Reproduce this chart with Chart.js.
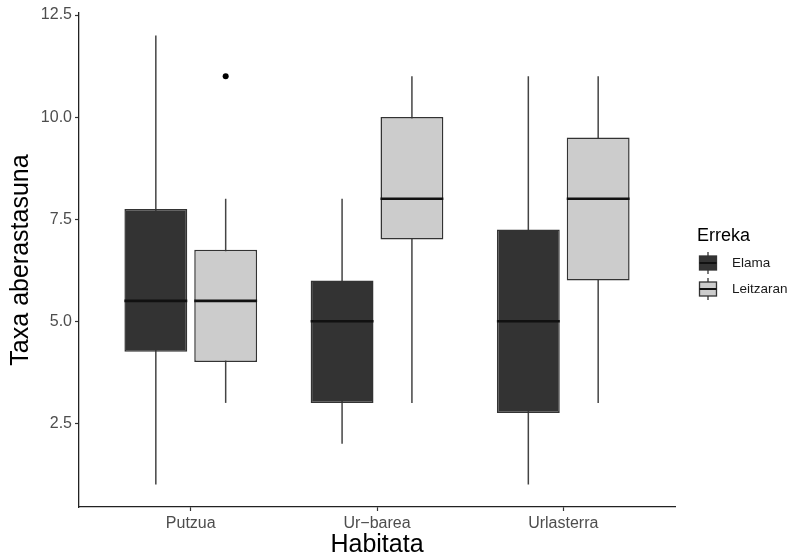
<!DOCTYPE html>
<html>
<head>
<meta charset="utf-8">
<script src="https://cdn.jsdelivr.net/npm/chart.js@4.4.1/dist/chart.umd.min.js"></script>
<style>
  html, body { margin: 0; padding: 0; background: #ffffff; }
  #c { display: block; }
</style>
</head>
<body>
<canvas id="c" width="794" height="558"></canvas>
<script>
// Habitat categories and stream groups
const habitats = ['Putzua', 'Ur\u2212barea', 'Urlasterra'];
const streams = ['Elama', 'Leitzaran'];
const yTickValues = [2.5, 5, 7.5, 10, 12.5];

// Elama: five-number summaries per habitat
const elamaMin = [1, 2, 1];
const elamaQ1 = [4.25, 3, 2.75];
const elamaMedian = [5.5, 5, 5];
const elamaQ3 = [7.75, 6, 7.25];
const elamaMax = [12, 8, 11];
const elamaOutliers = [[], [], []];

// Leitzaran: five-number summaries per habitat
const leitzaranMin = [3, 3, 3];
const leitzaranQ1 = [4, 7, 6];
const leitzaranMedian = [5.5, 8, 8];
const leitzaranQ3 = [6.75, 10, 9.5];
const leitzaranMax = [8, 11, 11];
const leitzaranOutliers = [[11], [], []];

const fillColors = ['#333333', '#cccccc'];
const lineColor = '#333333';
const FONT = '"Liberation Sans", Arial, Helvetica, sans-serif';

function makeDataset(label, q1, q3, min, median, max, outliers, color) {
  return {
    label,
    data: habitats.map((h, i) => ({ x: i + 1, y: [q1[i], q3[i]] })),
    backgroundColor: color,
    borderColor: lineColor,
    borderWidth: 1.5,
    borderSkipped: false,
    categoryPercentage: 0.75,
    barPercentage: 0.9,
    stats: { min, median, max, outliers }
  };
}

const datasets = [
  makeDataset(streams[0], elamaQ1, elamaQ3, elamaMin, elamaMedian, elamaMax, elamaOutliers, fillColors[0]),
  makeDataset(streams[1], leitzaranQ1, leitzaranQ3, leitzaranMin, leitzaranMedian, leitzaranMax, leitzaranOutliers, fillColors[1])
];

// Whiskers go under the boxes; medians and outliers on top
const boxplotParts = {
  id: 'boxplotParts',
  beforeDatasetsDraw(chart) {
    const y = chart.scales.y;
    const ctx = chart.ctx;
    ctx.save();
    ctx.strokeStyle = '#444444';
    ctx.lineWidth = 1.5;
    chart.data.datasets.forEach((ds, di) => {
      const meta = chart.getDatasetMeta(di);
      meta.data.forEach((bar, i) => {
        ctx.beginPath();
        ctx.moveTo(bar.x, y.getPixelForValue(ds.stats.min[i]));
        ctx.lineTo(bar.x, y.getPixelForValue(ds.stats.max[i]));
        ctx.stroke();
      });
    });
    ctx.restore();
  },
  afterDatasetsDraw(chart) {
    const y = chart.scales.y;
    const ctx = chart.ctx;
    ctx.save();
    chart.data.datasets.forEach((ds, di) => {
      const meta = chart.getDatasetMeta(di);
      meta.data.forEach((bar, i) => {
        const half = bar.width / 2;
        const my = y.getPixelForValue(ds.stats.median[i]);
        ctx.strokeStyle = '#111111';
        ctx.lineWidth = 2.6;
        ctx.beginPath();
        ctx.moveTo(bar.x - half, my);
        ctx.lineTo(bar.x + half, my);
        ctx.stroke();
        ctx.fillStyle = '#000000';
        ds.stats.outliers[i].forEach(v => {
          ctx.beginPath();
          ctx.arc(bar.x, y.getPixelForValue(v), 3, 0, Math.PI * 2);
          ctx.fill();
        });
      });
    });
    ctx.restore();
  }
};

// Legend with mini boxplot keys
const boxLegend = {
  id: 'boxLegend',
  afterDraw(chart) {
    const ctx = chart.ctx;
    ctx.save();
    ctx.fillStyle = '#000000';
    ctx.textAlign = 'left';
    ctx.textBaseline = 'middle';
    ctx.font = '18px ' + FONT;
    ctx.fillText('Erreka', 697, 236);
    const keyX = 708, rowY = [263, 289];
    streams.forEach((name, k) => {
      const cy = rowY[k];
      ctx.strokeStyle = lineColor;
      ctx.lineWidth = 1.3;
      ctx.beginPath();
      ctx.moveTo(keyX, cy - 11);
      ctx.lineTo(keyX, cy + 11);
      ctx.stroke();
      ctx.fillStyle = fillColors[k];
      ctx.fillRect(keyX - 8.5, cy - 7, 17, 14);
      ctx.strokeRect(keyX - 8.5, cy - 7, 17, 14);
      ctx.strokeStyle = '#111111';
      ctx.lineWidth = 2;
      ctx.beginPath();
      ctx.moveTo(keyX - 8.5, cy);
      ctx.lineTo(keyX + 8.5, cy);
      ctx.stroke();
      ctx.fillStyle = '#1a1a1a';
      ctx.font = '13.5px ' + FONT;
      ctx.fillText(name, 732, cy);
    });
    ctx.restore();
  }
};

new Chart(document.getElementById('c'), {
  type: 'bar',
  data: { datasets },
  plugins: [boxplotParts, boxLegend],
  options: {
    responsive: false,
    animation: false,
    layout: { padding: { top: 13, right: 119, left: 0, bottom: 0 } },
    plugins: { legend: { display: false }, tooltip: { enabled: false } },
    scales: {
      x: {
        type: 'linear',
        min: 0.4,
        max: 3.6,
        offset: false,
        afterBuildTicks(axis) { axis.ticks = habitats.map((h, i) => ({ value: i + 1 })); },
        afterFit(axis) { axis.height = 51; },
        grid: { offset: false, drawOnChartArea: false, drawTicks: true, tickLength: 4, tickColor: '#333333', tickWidth: 1.2 },
        border: { display: true, color: '#222222', width: 1.3 },
        ticks: {
          autoSkip: false,
          maxRotation: 0,
          padding: 3,
          color: '#4d4d4d',
          font: { family: FONT, size: 16 },
          callback: (v) => habitats[Math.round(v) - 1]
        },
        title: {
          display: true,
          text: 'Habitata',
          color: '#000000',
          font: { family: FONT, size: 25, lineHeight: 1 },
          padding: { top: 0, bottom: 0 }
        }
      },
      y: {
        min: 0.45,
        max: 12.55,
        afterBuildTicks(axis) { axis.ticks = yTickValues.map(v => ({ value: v })); },
        afterFit(axis) { axis.width = 79; },
        grid: { drawOnChartArea: false, drawTicks: true, tickLength: 4, tickColor: '#333333', tickWidth: 1.2 },
        border: { display: true, color: '#222222', width: 1.3 },
        ticks: {
          padding: 3,
          color: '#4d4d4d',
          font: { family: FONT, size: 16 },
          callback: (v) => v.toFixed(1)
        },
        title: {
          display: true,
          text: 'Taxa aberastasuna',
          color: '#000000',
          font: { family: FONT, size: 25, lineHeight: 1 },
          padding: { top: 9, bottom: 0 }
        }
      }
    }
  }
});
</script>
</body>
</html>
